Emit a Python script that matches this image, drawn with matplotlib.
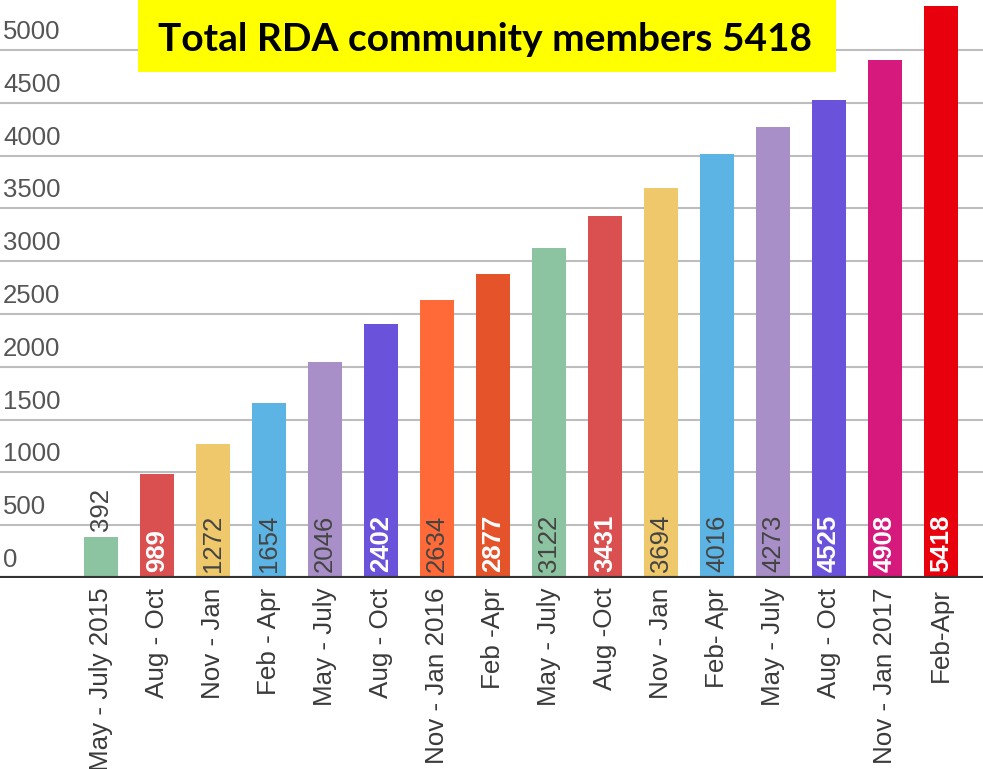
import matplotlib
matplotlib.use("Agg")
import matplotlib.pyplot as plt
from matplotlib.patches import Rectangle
from matplotlib.transforms import blended_transform_factory

categories = ["May - July 2015", "Aug - Oct", "Nov - Jan", "Feb - Apr", "May - July",
              "Aug - Oct", "Nov - Jan 2016", "Feb -Apr", "May - July", "Aug -Oct",
              "Nov - Jan", "Feb- Apr", "May - July", "Aug - Oct", "Nov - Jan 2017", "Feb-Apr"]
values = [392, 989, 1272, 1654, 2046, 2402, 2634, 2877, 3122, 3431, 3694, 4016, 4273, 4525, 4908, 5418]
colors = ["#8CC4A1", "#DA5050", "#EEC86A", "#5CB4E4", "#A98FC8", "#6A52DA", "#FF6A38", "#E4532A",
          "#8CC4A1", "#DA5050", "#EEC86A", "#5CB4E4", "#A98FC8", "#6A52DA", "#D6197C", "#E8000C"]
white_labels = [False, True, False, False, False, True, False, True,
                False, True, False, False, False, True, True, True]
yticks = [0, 500, 1000, 1500, 2000, 2500, 3000, 3500, 4000, 4500, 5000]
title = "Total RDA community members 5418"

W, H = 983, 769
fig = plt.figure(figsize=(W / 100, H / 100), dpi=100)
base_px = 578
ax = fig.add_axes([0, (H - base_px) / H, 1, base_px / H])
for s in ax.spines.values():
    s.set_visible(False)

x = list(range(len(values)))
ax.bar(x, values, width=0.61, color=colors, zorder=2)
ax.set_xlim(-101 / 56, (W - 101) / 56)
ax.set_ylim(0, base_px / 0.1056)

for v in yticks[1:]:
    ax.axhline(v, color="#bdbdbd", lw=1.5, zorder=1)
ax.axhline(0, color="#333333", lw=3, zorder=3)

trans = blended_transform_factory(ax.transAxes, ax.transData)
for v in yticks:
    ax.annotate(str(v), xy=(0, v), xycoords=trans, xytext=(3, 6), textcoords="offset pixels",
                ha="left", va="bottom", fontsize=18.5, color="#555555", family="Liberation Sans")

ax.set_xticks(x)
ax.set_xticklabels(categories, rotation=90, fontsize=18.7, color="#3a3a3a", family="Liberation Sans")
ax.tick_params(axis="x", length=0, pad=7)
ax.set_yticks([])

for xi, v, w in zip(x, values, white_labels):
    if v < 700:
        ax.annotate(str(v), xy=(xi, v), xytext=(0, 6), textcoords="offset pixels",
                    rotation=90, ha="center", va="bottom", fontsize=18.5,
                    color="#444444", family="Liberation Sans")
    else:
        ax.annotate(str(v), xy=(xi, 0), xytext=(0, 6), textcoords="offset pixels",
                    rotation=90, ha="center", va="bottom", fontsize=18.5,
                    color="white" if w else "#444444",
                    fontweight="bold" if w else "normal", family="Liberation Sans", zorder=4)

fig.patches.append(Rectangle((138 / W, 1 - 72 / H), 698 / W, 72 / H, transform=fig.transFigure,
                             facecolor="#FFFF00", edgecolor="none", zorder=5))
fig.text(485 / W, 1 - 51 / H, title, ha="center", va="baseline", fontsize=28,
         fontweight="bold", family="Lato", color="black", zorder=6)

fig.savefig("out.png", dpi=100)
